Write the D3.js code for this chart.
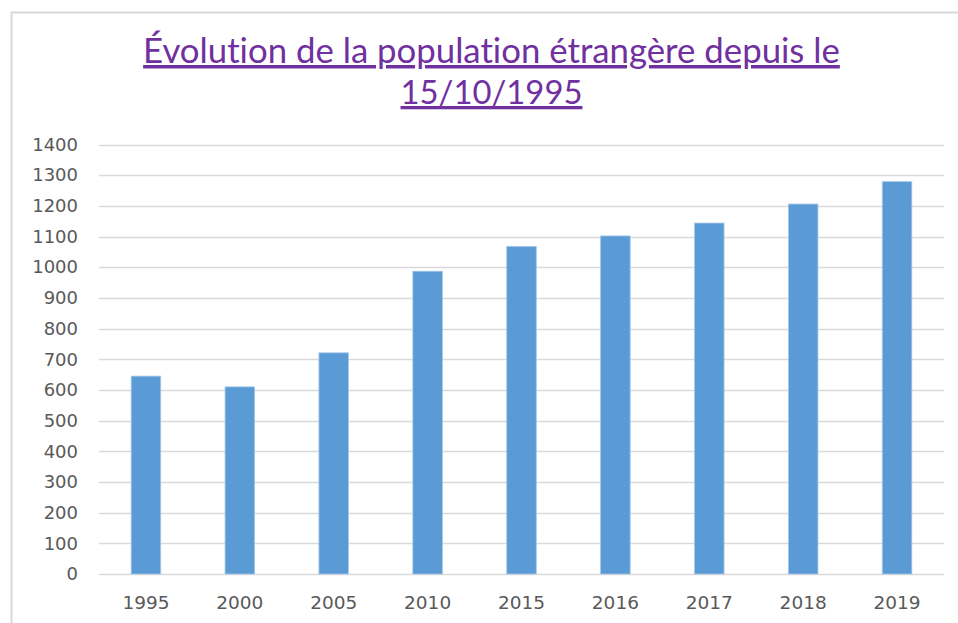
<!DOCTYPE html>
<html>
<head>
<meta charset="utf-8">
<script src="https://cdn.jsdelivr.net/npm/d3@7"></script>
<style>
  body { margin: 0; background: #fff; }
  svg { display: block; font-family: Lato, "Open Sans", sans-serif; font-variant-ligatures: none; }
</style>
</head>
<body>
<svg id="chart" width="958" height="623"></svg>
<script>
// data
var years = ["1995", "2000", "2005", "2010", "2015", "2016", "2017", "2018", "2019"];
var population = [645, 610, 721, 987, 1068, 1102, 1144, 1206, 1279];
var yTicks = [0, 100, 200, 300, 400, 500, 600, 700, 800, 900, 1000, 1100, 1200, 1300, 1400];
var titleLines = ["Évolution de la population étrangère depuis le", "15/10/1995"];

var svg = d3.select("#chart");

// outer frame of the chart area
svg.append("rect")
    .attr("x", 11.5).attr("y", 12.5)
    .attr("width", 980).attr("height", 640)
    .attr("fill", "none")
    .attr("stroke", "#d9d9d9")
    .attr("stroke-width", 2);

var margin = {left: 99, right: 14, top: 144.5, bottom: 49};
var w = 958, h = 623;

var x = d3.scaleBand()
    .domain(years)
    .range([margin.left, w - margin.right])
    .paddingInner(0.685)
    .paddingOuter(0.3425);

var y = d3.scaleLinear()
    .domain([0, 1400])
    .range([h - margin.bottom, margin.top]);

// gridlines
svg.append("g").selectAll("line")
    .data(yTicks)
    .enter().append("line")
    .attr("x1", margin.left).attr("x2", w - margin.right)
    .attr("y1", function(d){ return Math.round(y(d)) + 0.5; })
    .attr("y2", function(d){ return Math.round(y(d)) + 0.5; })
    .attr("stroke", "#d9d9d9")
    .attr("stroke-width", 1.5);

var tickFont = "'DejaVu Sans', sans-serif";

// y axis labels
var yAxis = d3.axisLeft(y).tickValues(yTicks).tickSize(0).tickPadding(0).tickFormat(d3.format("d"));
var gy = svg.append("g")
    .attr("transform", "translate(78,0)")
    .call(yAxis);
gy.select(".domain").remove();
gy.selectAll("text")
    .attr("fill", "#595959")
    .style("font-size", "18px")
    .style("font-family", tickFont);

// bars
svg.append("g").selectAll("rect")
    .data(population)
    .enter().append("rect")
    .attr("x", function(d, i){ return x(years[i]); })
    .attr("y", function(d){ return y(d); })
    .attr("width", x.bandwidth())
    .attr("height", function(d){ return y(0) - y(d); })
    .attr("fill", "#5b9bd5")
    .attr("stroke", "#a7c8ea")
    .attr("stroke-width", 0.8);

// x axis labels
var xAxis = d3.axisBottom(x).tickSize(0).tickPadding(0);
var gx = svg.append("g")
    .attr("transform", "translate(0,609)")
    .call(xAxis);
gx.select(".domain").remove();
gx.selectAll("text")
    .attr("fill", "#595959")
    .attr("y", 0)
    .attr("dy", 0)
    .style("font-size", "18.5px")
    .style("font-family", tickFont);

// title
var titleWidths = [697, 182];
var title = svg.append("g");
title.selectAll("text")
    .data(titleLines)
    .enter().append("text")
    .attr("x", 491.5)
    .attr("y", function(d, i){ return i === 0 ? 63 : 104; })
    .attr("text-anchor", "middle")
    .attr("fill", "#7030a0")
    .style("font-size", "30px")
    .style("text-decoration", "underline")
    .text(function(d){ return d; })
    .each(function(d, i){
        // fit each line to the width seen in the reference
        var len = this.getComputedTextLength();
        d3.select(this).style("font-size", (30 * titleWidths[i] / len) + "px");
    });
</script>
</body>
</html>
